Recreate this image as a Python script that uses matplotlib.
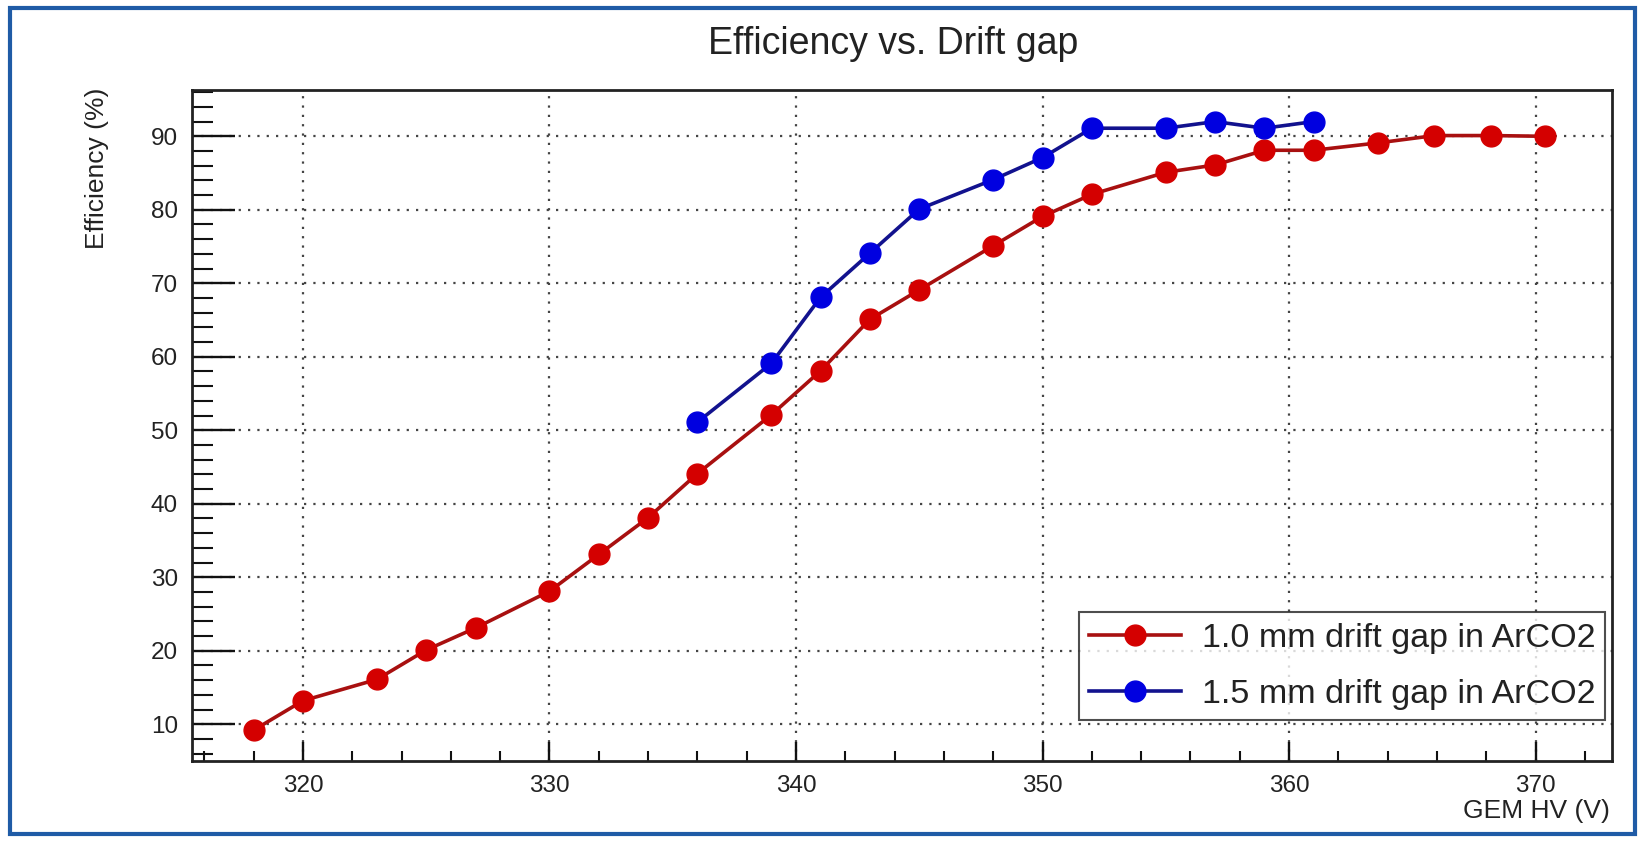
import matplotlib
matplotlib.use("Agg")
import matplotlib.pyplot as plt
from matplotlib.patches import Rectangle
from matplotlib.ticker import MultipleLocator

plt.rcParams['font.family'] = ['Liberation Sans', 'DejaVu Sans']

# Data
hv_10mm = [318, 320, 323, 325, 327, 330, 332, 334, 336, 339, 341, 343, 345, 348,
           350, 352, 355, 357, 359, 361, 363.6, 365.9, 368.2, 370.4]
eff_10mm = [9.2, 13.2, 16.1, 20.1, 23.1, 28.1, 33.1, 38.1, 44.1, 52.1, 58.1, 65.1,
            69.1, 75.1, 79.1, 82.1, 85.1, 86.1, 88.1, 88.1, 89.1, 90.1, 90.1, 90.0]
hv_15mm = [336, 339, 341, 343, 345, 348, 350, 352, 355, 357, 359, 361]
eff_15mm = [51.1, 59.1, 68.1, 74.1, 80.1, 84.1, 87.1, 91.1, 91.1, 92.0, 91.1, 92.0]

label_10mm = "1.0 mm drift gap in ArCO2"
label_15mm = "1.5 mm drift gap in ArCO2"
title = "Efficiency vs. Drift gap"
xlabel = "GEM HV (V)"
ylabel = "Efficiency (%)"

W, H = 1645, 842
fig = plt.figure(figsize=(W / 100, H / 100), dpi=100)
ax = fig.add_axes([192 / W, 1 - 761 / H, (1612 - 192) / W, (761 - 90) / H])

ax.plot(hv_10mm, eff_10mm, color='#a81010', lw=2.6, marker='o', ms=15,
        mfc='#d40000', mec='#d40000', label=label_10mm, zorder=3)
ax.plot(hv_15mm, eff_15mm, color='#12128e', lw=2.6, marker='o', ms=15,
        mfc='#0000e0', mec='#0000e0', label=label_15mm, zorder=3)

ax.set_xlim(315.5, 373.1)
ax.set_ylim(5.0, 96.3)
ax.xaxis.set_major_locator(MultipleLocator(10))
ax.xaxis.set_minor_locator(MultipleLocator(2))
ax.yaxis.set_major_locator(MultipleLocator(10))
ax.yaxis.set_minor_locator(MultipleLocator(2))

ax.tick_params(axis='both', which='both', direction='in', colors='#111111',
               labelcolor='#222222')
ax.tick_params(axis='y', which='major', length=31, width=1.7, labelsize=17.5, pad=10)
ax.tick_params(axis='y', which='minor', length=15, width=1.5)
ax.tick_params(axis='x', which='major', length=14, width=1.7, labelsize=17.5, pad=10)
ax.tick_params(axis='x', which='minor', length=7, width=1.5)

for s in ax.spines.values():
    s.set_linewidth(2.0)
    s.set_color('#222222')

ax.grid(True, which='major', linestyle=(0, (1, 3.2)), color='#444444', lw=1.6)
ax.set_axisbelow(True)

leg = ax.legend(loc='center', bbox_to_anchor=(0.810, 0.141), fontsize=24.5,
                frameon=True, fancybox=False, borderpad=0.3, labelspacing=0.75,
                handlelength=2.7, handletextpad=0.6, numpoints=1, borderaxespad=0)
leg.get_frame().set_edgecolor('#222222')
leg.get_frame().set_linewidth(1.5)
for t in leg.get_texts():
    t.set_color('#222222')

fig.text(893 / W, 1 - 44 / H, title, ha='center', va='center', fontsize=27,
         color='#222222')
fig.text(1610 / W, 1 - 811 / H, xlabel, ha='right', va='center', fontsize=19,
         color='#222222')
fig.text(97 / W, 1 - 88 / H, ylabel, ha='center', va='top', rotation=90,
         fontsize=19, color='#222222')

fig.patches.append(Rectangle((10 / W, 8 / H), (1635 - 10) / W, (834 - 8) / H,
                             transform=fig.transFigure, fill=False,
                             edgecolor='#1f5ba6', lw=3))

fig.savefig('out.png', dpi=100)
